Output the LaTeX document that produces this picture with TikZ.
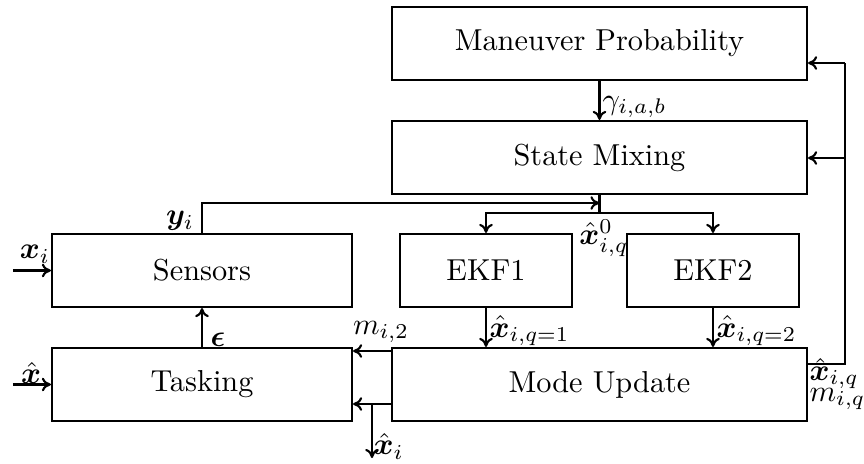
\documentclass[tikz,border=0pt]{standalone}
\usepackage{amsmath}
\usepackage{bm}
\usetikzlibrary{arrows.meta}
\begin{document}
\begin{tikzpicture}[x=0.33pt,y=-0.33pt,
  box/.style={draw,line width=0.7pt,inner sep=0pt,font=\normalsize,minimum height={73*0.33pt}},
  wide/.style={box,minimum width={415*0.33pt}},
  mid/.style={box,minimum width={300*0.33pt}},
  narrow/.style={box,minimum width={172*0.33pt}},
  conn/.style={line width=0.7pt},
  arr/.style={conn,-{To[length=3pt,width=4.5pt]}},
  lab/.style={inner sep=0pt}]
\useasboundingbox (0,0) rectangle (864,464);
% boxes
\node[wide] (MP) at (599.5,43.5) {Maneuver Probability};
\node[wide] (SM) at (599.5,157.5) {State Mixing};
\node[mid] (SE) at (202,270.5) {Sensors};
\node[narrow] (E1) at (486,270.5) {EKF1};
\node[narrow] (E2) at (713,270.5) {EKF2};
\node[mid] (TA) at (202,384.5) {Tasking};
\node[wide] (MU) at (599.5,384.5) {Mode Update};
% coordinates
\coordinate (split) at (599.5,213);
\coordinate (yin) at (599.5,203);
\coordinate (xin) at (13,270.5);
\coordinate (xhin) at (13,384.5);
\coordinate (m2) at (0,351);
\coordinate (lo) at (0,404);
\coordinate (br) at (372,404);
\coordinate (brend) at (372,458);
\coordinate (rt) at (845,364);
\coordinate (rtop) at (845,63);
\coordinate (rmid) at (845,158);
% connectors
\draw[arr] (MP.south) -- (SM.north);
\draw[conn] (SM.south) -- (split);
\draw[arr] (split) -| (E1.north);
\draw[arr] (split) -| (E2.north);
\draw[arr] (SE.north) |- (yin);
\draw[arr] (xin) -- (SE.west);
\draw[arr] (TA.north) -- (SE.south);
\draw[arr] (xhin) -- (TA.west);
\draw[arr] (E1.south) -- (E1.south |- MU.north);
\draw[arr] (E2.south) -- (E2.south |- MU.north);
\draw[arr] (MU.west |- m2) -- (TA.east |- m2);
\draw[arr] (MU.west |- lo) -- (TA.east |- lo);
\draw[arr] (br) -- (brend);
\draw[conn] (MU.east |- rt) -- (rt) -- (rtop);
\draw[arr] (rtop) -- (MP.east |- rtop);
\draw[arr] (rmid) -- (SM.east |- rmid);
% labels
\node[lab,anchor=west] (lg) at (602,107) {$\gamma_{i,a,b}$};
\node[lab] (ly) at (180,221) {$\bm{y}_i$};
\node[lab] (lx) at (35,254) {$\bm{x}_i$};
\node[lab] (lxh) at (31,373) {$\hat{\bm{x}}$};
\node[lab] (leps) at (218,340) {$\bm{\epsilon}$};
\node[lab,anchor=west] (lxi) at (373,446) {$\hat{\bm{x}}_i$};
\node[lab] (lm2) at (381,332) {$m_{i,2}$};
\node[lab] (lx0) at (604,238) {$\hat{\bm{x}}_{i,q}^{0}$};
\node[lab,anchor=west] (lq1) at (489,331) {$\hat{\bm{x}}_{i,q=1}$};
\node[lab,anchor=west] (lq2) at (716,331) {$\hat{\bm{x}}_{i,q=2}$};
\node[lab,anchor=west] (lxq) at (809,374) {$\hat{\bm{x}}_{i,q}$};
\node[lab,anchor=west] (lmq) at (809,399) {$m_{i,q}$};
\end{tikzpicture}
\end{document}
